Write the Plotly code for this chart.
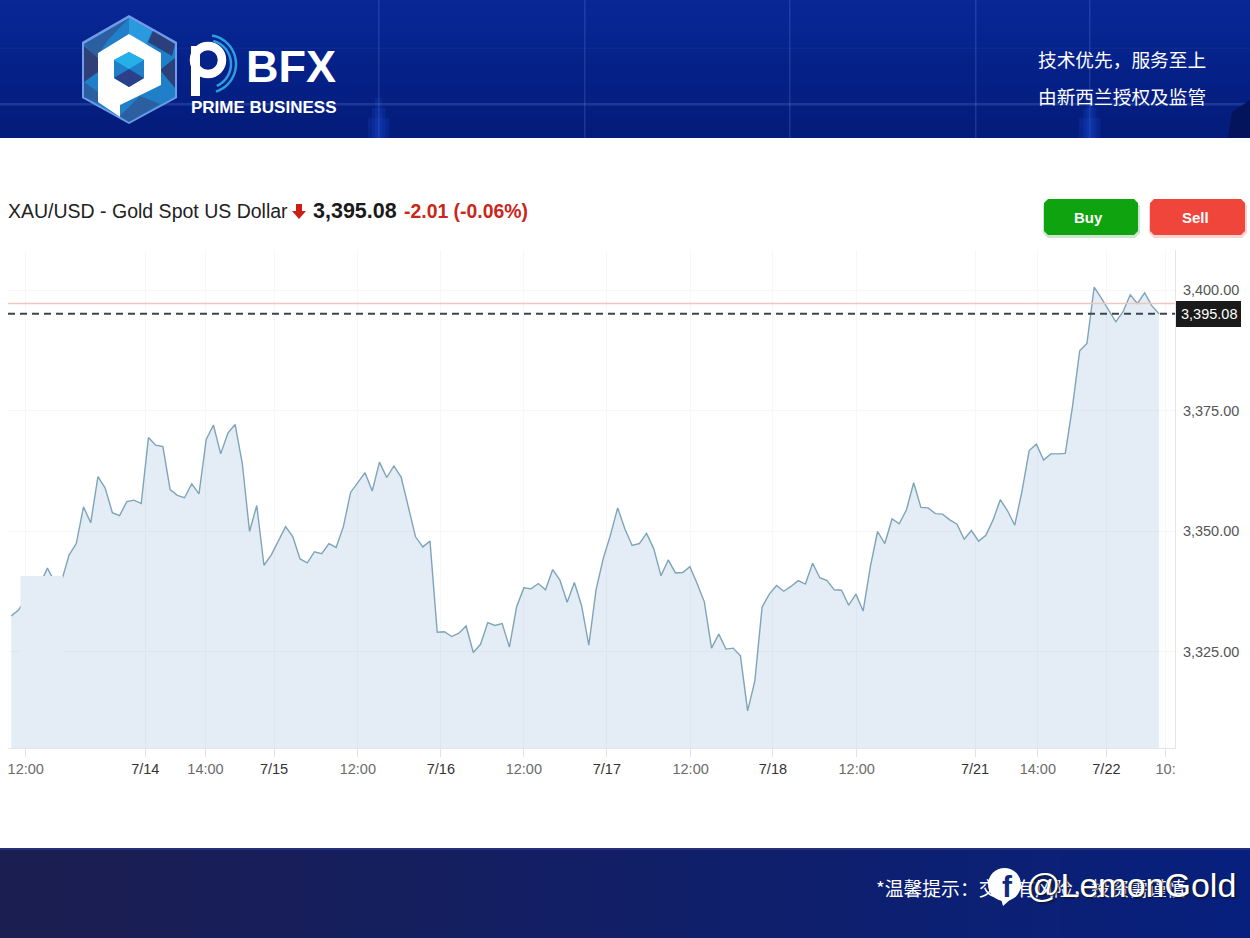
"""XAU/USD area chart with the PBFX banner, footer and watermark."""

import math

import plotly.graph_objects as go

WIDTH = 1250
HEIGHT = 938

PRICES = [
    3332.4, 3333.6, 3336.0, 3338.0, 3339.0, 3342.3, 3339.5, 3339.8, 3345.0, 3347.4,
    3355.0, 3351.7, 3361.3, 3358.9, 3353.8, 3353.2, 3356.1, 3356.4, 3355.7, 3369.4,
    3367.8, 3367.5, 3358.6, 3357.4, 3356.9, 3359.8, 3357.7, 3369.0, 3372.0, 3366.0,
    3370.3, 3372.1, 3364.0, 3349.9, 3355.3, 3342.9, 3345.0, 3347.8, 3350.9, 3348.8,
    3344.2, 3343.4, 3345.7, 3345.3, 3347.4, 3346.6, 3350.9, 3358.0, 3360.0, 3362.1,
    3358.3, 3364.3, 3361.1, 3363.5, 3361.2, 3355.0, 3348.8, 3346.7, 3347.9, 3329.0,
    3329.1, 3328.1, 3328.8, 3330.3, 3324.8, 3326.5, 3331.0, 3330.4, 3330.8, 3325.9,
    3334.3, 3338.2, 3338.0, 3339.1, 3337.8, 3342.0, 3339.8, 3335.2, 3339.3, 3334.5,
    3326.3, 3337.8, 3344.3, 3349.2, 3354.8, 3350.4, 3347.0, 3347.4, 3349.5, 3346.3,
    3340.7, 3344.0, 3341.3, 3341.4, 3342.6, 3339.1, 3335.3, 3325.7, 3328.6, 3325.5,
    3325.7, 3324.1, 3312.7, 3318.9, 3334.2, 3336.9, 3338.7, 3337.5, 3338.5, 3339.7,
    3339.0, 3343.3, 3340.3, 3339.7, 3337.8, 3337.7, 3334.6, 3336.9, 3333.4, 3342.6,
    3349.9, 3347.4, 3352.5, 3351.5, 3354.4, 3360.0, 3354.9, 3354.8, 3353.6, 3353.5,
    3352.3, 3351.4, 3348.3, 3350.1, 3347.9, 3349.1, 3352.3, 3356.5, 3354.2, 3351.2,
    3358.2, 3366.7, 3368.0, 3364.7, 3366.0, 3366.0, 3366.1, 3375.8, 3387.4, 3388.9,
    3400.6, 3398.3, 3395.7, 3393.4, 3395.5, 3399.0, 3397.2, 3399.4, 3396.7, 3395.08,
]
BAR_INDEX = list(range(len(PRICES)))

X_TICK_POS = [2, 18.56, 26.9, 36.4, 48, 59.5, 71, 82.5, 94.1, 105.5, 117.1, 133.5, 142.2, 151.7, 159.9]
X_TICK_LABELS = ["12:00", "7/14", "14:00", "7/15", "12:00", "7/16", "12:00", "7/17", "12:00",
                 "7/18", "12:00", "7/21", "14:00", "7/22", "10:"]
Y_TICKS = [3325, 3350, 3375, 3400]

LAST_PRICE = 3395.08
ASK_PRICE = 3397.2

SANS = "Liberation Sans, Arial, sans-serif"
CJK = "Noto Sans CJK SC, sans-serif"


def px(x, y):
    return x / WIDTH, 1 - y / HEIGHT


def path_of(points, closed=True):
    coords = [px(x, y) for x, y in points]
    body = "M " + " L ".join(f"{x:.5f},{y:.5f}" for x, y in coords)
    return body + " Z" if closed else body


def add_poly(fig, points, color):
    fig.add_shape(type="path", path=path_of(points), xref="paper", yref="paper",
                  fillcolor=color, line=dict(width=0))


def add_arc(fig, cx, cy, radius, start, end, color, width):
    points = []
    for i in range(25):
        angle = math.radians(start + (end - start) * i / 24)
        points.append((cx + radius * math.cos(angle), cy + radius * math.sin(angle)))
    fig.add_shape(type="path", path=path_of(points, closed=False), xref="paper", yref="paper",
                  line=dict(color=color, width=width))


def add_box(fig, x0, y0, x1, y1, color):
    px0, py0 = px(x0, y0)
    px1, py1 = px(x1, y1)
    fig.add_shape(type="rect", x0=px0, x1=px1, y0=py0, y1=py1, xref="paper", yref="paper",
                  fillcolor=color, line=dict(width=0))


def add_round_box(fig, x0, y0, x1, y1, r, color):
    corners = [(x0 + r, y0), (x1 - r, y0), (x1, y0 + r), (x1, y1 - r),
               (x1 - r, y1), (x0 + r, y1), (x0, y1 - r), (x0, y0 + r)]
    add_poly(fig, corners, color)


def mix(c0, c1, t):
    parts = [round(a + (b - a) * t) for a, b in zip(c0, c1)]
    return f"rgb({parts[0]},{parts[1]},{parts[2]})"


def add_gradient(fig, x0, y0, x1, y1, c0, c1, steps=40, vertical=False):
    for i in range(steps):
        color = mix(c0, c1, i / (steps - 1))
        if vertical:
            step = (y1 - y0) / steps
            add_box(fig, x0, y0 + i * step, x1, min(y0 + (i + 1) * step + 1, y1), color)
        else:
            step = (x1 - x0) / steps
            add_box(fig, x0 + i * step, y0, min(x0 + (i + 1) * step + 1, x1), y1, color)


def add_text(fig, x, y, text, size, color, family=SANS, anchor="left", **font_kw):
    px_x, px_y = px(x, y)
    fig.add_annotation(x=px_x, y=px_y, xref="paper", yref="paper", text=text, showarrow=False,
                       xanchor=anchor, yanchor="middle", borderpad=0,
                       font=dict(size=size, color=color, family=family, **font_kw))


def tick_label(text):
    color = "#333333" if "/" in text else "#6b6b6b"
    return f'<span style="color:{color}">{text}</span>'


def draw_banner(fig):
    add_gradient(fig, 0, 0, WIDTH, 70, (8, 40, 150), (5, 33, 136), steps=14, vertical=True)
    add_gradient(fig, 0, 70, WIDTH, 138, (5, 33, 136), (4, 28, 122), steps=14, vertical=True)
    for x in [378, 584, 789, 975, 1089]:
        add_box(fig, x, 0, x + 1.5, 138, "rgba(120,160,240,0.2)")
    # soft glow at the foot of two of the vertical streaks
    for x in [378, 1089]:
        for half, top in [(10, 118), (6, 108), (3, 98)]:
            add_box(fig, x - half, top, x + half + 1.5, 138, "rgba(30,90,230,0.16)")
    add_box(fig, 0, 47.5, WIDTH, 49, "rgba(120,160,240,0.06)")
    add_box(fig, 0, 103, WIDTH, 105.5, "rgba(120,160,240,0.2)")
    add_poly(fig, [(1232, 112), (1250, 100), (1250, 138), (1228, 138)], "#03145c")

    # logo hexagon and facets
    add_poly(fig, [(129, 15), (177, 42), (177, 98), (129, 124), (82, 98), (82, 42)], "#6f9be8")
    add_poly(fig, [(129, 18), (175, 44), (175, 97), (129, 122), (84, 97), (84, 44)], "#1f7fc8")
    add_poly(fig, [(84, 44), (129, 18), (108, 40), (96, 58)], "#2c5f9f")
    add_poly(fig, [(84, 46), (98, 58), (98, 72), (84, 82)], "#2f3f78")
    add_poly(fig, [(129, 18), (152, 31), (146, 45), (129, 34)], "#2a9ade")
    add_poly(fig, [(153, 31), (175, 44), (172, 56), (148, 42)], "#2b3f7a")
    add_poly(fig, [(175, 58), (160, 70), (175, 88)], "#2b3f7a")
    add_poly(fig, [(84, 82), (98, 92), (98, 103), (84, 97)], "#2c5f9f")
    add_poly(fig, [(120, 116), (129, 122), (160, 104), (140, 96)], "#2c5f9f")
    # white P
    add_poly(fig, [(129, 34), (161, 53), (161, 85), (120, 105), (120, 117), (98, 102), (98, 53)], "white")
    add_poly(fig, [(129, 52), (144, 60), (144, 78), (129, 87), (114, 78), (114, 60)], "#1d80c8")
    add_poly(fig, [(129, 52), (144, 60), (129, 69), (114, 60)], "#26b0ea")
    add_poly(fig, [(114, 78), (129, 69), (144, 78), (129, 87)], "#2c3f8a")

    # wordmark: drawn "p" then BFX
    add_arc(fig, 207, 64, 29, -80, 72, "#2a9fe0", 2.5)
    add_arc(fig, 207, 64, 24, -75, 66, "#2a9fe0", 2.5)
    left, top = px(208 - 14, 60 - 14)
    right, bottom = px(208 + 14, 60 + 14)
    fig.add_shape(type="circle", x0=left, x1=right, y0=top, y1=bottom, xref="paper", yref="paper",
                  line=dict(color="white", width=8.5))
    add_box(fig, 191, 46, 200, 96, "white")
    add_text(fig, 245, 66, "BFX", 45, "white", weight="bold")
    add_text(fig, 190, 107, "PRIME BUSINESS", 17, "white", weight="bold")

    add_text(fig, 1037, 59, "技术优先，服务至上", 18.7, "white", family=CJK)
    add_text(fig, 1037, 95, "由新西兰授权及监管", 18.7, "white", family=CJK)


def draw_header_row(fig):
    add_text(fig, 7, 211, "XAU/USD - Gold Spot US Dollar", 19.5, "#222222")
    add_poly(fig, [(296, 204), (302, 204), (302, 211), (306, 211), (299, 219), (292, 211), (296, 211)], "#cc1f14")
    add_text(fig, 312, 211, "3,395.08", 21.5, "#1a1a1a", weight="bold")
    add_text(fig, 403, 211, "-2.01 (-0.06%)", 19.4, "#c9271a", weight="bold")

    add_round_box(fig, 1043, 201, 1140, 238, 5, "rgba(20,140,20,0.22)")
    add_round_box(fig, 1149, 201, 1247, 238, 5, "rgba(230,60,50,0.22)")
    add_round_box(fig, 1044, 199, 1138, 235, 4, "#0ea30f")
    add_round_box(fig, 1150, 199, 1245, 235, 4, "#f0453a")
    add_text(fig, 1088, 217, "Buy", 15, "white", anchor="center", weight="bold")
    add_text(fig, 1195, 217, "Sell", 15, "white", anchor="center", weight="bold")


def draw_footer(fig):
    add_gradient(fig, 0, 849, WIDTH, 938, (27, 30, 80), (8, 32, 125))
    add_box(fig, 0, 848, WIDTH, 850, "#27307a")
    add_text(fig, 875, 887, "*温馨提示：交易有风险，投资需谨慎", 18.8, "white", family=CJK)

    left, top = px(988, 868)
    right, bottom = px(1021, 901)
    fig.add_shape(type="circle", x0=left, x1=right, y0=top, y1=bottom, xref="paper", yref="paper",
                  fillcolor="white", line=dict(width=0))
    add_poly(fig, [(1000, 895), (1012, 898), (1003, 906)], "white")
    add_text(fig, 1007, 886, "f", 30, "#0f2a80", anchor="center", weight="bold")
    add_text(fig, 1025, 885, "@LemonGold", 34, "white", shadow="1px 1px 2px #111")


fig = go.Figure()
fig.add_trace(
    go.Scatter(
        x=BAR_INDEX,
        y=PRICES,
        mode="lines",
        line=dict(color="#7ea4b9", width=1.4),
        fill="tozeroy",
        fillcolor="rgba(120,165,205,0.2)",
        hoverinfo="skip",
        showlegend=False,
    )
)

grid = "#f6f7f8"
fig.update_layout(
    width=WIDTH,
    height=HEIGHT,
    margin=dict(l=0, r=0, t=0, b=0),
    paper_bgcolor="white",
    plot_bgcolor="white",
    showlegend=False,
    xaxis=dict(
        domain=[8 / WIDTH, 1175 / WIDTH],
        range=[-0.457, 161.2],
        tickmode="array",
        tickvals=X_TICK_POS,
        ticktext=[tick_label(t) for t in X_TICK_LABELS],
        tickangle=0,
        ticks="outside",
        ticklen=8,
        tickcolor="#dfe3e6",
        tickfont=dict(family=SANS, size=14.5, color="#6b6b6b"),
        showgrid=True,
        gridcolor=grid,
        showline=True,
        linecolor="#e3e5e7",
        zeroline=False,
    ),
    yaxis=dict(
        domain=[1 - 748 / HEIGHT, 1 - 250 / HEIGHT],
        range=[3304.98, 3408.3],
        side="right",
        tickmode="array",
        tickvals=Y_TICKS,
        ticktext=[f"{v:,.2f}" for v in Y_TICKS],
        ticks="outside",
        ticklen=4,
        tickcolor="rgba(0,0,0,0)",
        tickfont=dict(family=SANS, size=14.5, color="#555555"),
        showgrid=True,
        gridcolor=grid,
        showline=True,
        linecolor="#e3e5e7",
        zeroline=False,
    ),
)

# reference levels
fig.add_shape(type="line", xref="x domain", yref="y", x0=0, x1=1, y0=ASK_PRICE, y1=ASK_PRICE,
              line=dict(color="#eec6c0", width=1.5))
fig.add_shape(type="line", xref="x domain", yref="y", x0=0, x1=1, y0=LAST_PRICE, y1=LAST_PRICE,
              line=dict(color="#3c4650", width=2, dash="7px,5px"))

# flat fill patch sitting over the left end of the series in the source image
add_box(fig, 20.5, 576, 63, 748, "#e4edf5")

draw_banner(fig)
draw_header_row(fig)
draw_footer(fig)

# last-price tag on the axis
add_box(fig, 1176, 301, 1241, 327, "#1a1a1a")
add_text(fig, 1208.5, 314, f"{LAST_PRICE:,.2f}", 14.5, "white", anchor="center")

fig.write_html(
    "out.html",
    config={"displayModeBar": False},
    post_script="document.body.style.margin='0';document.body.style.overflow='hidden';",
)
